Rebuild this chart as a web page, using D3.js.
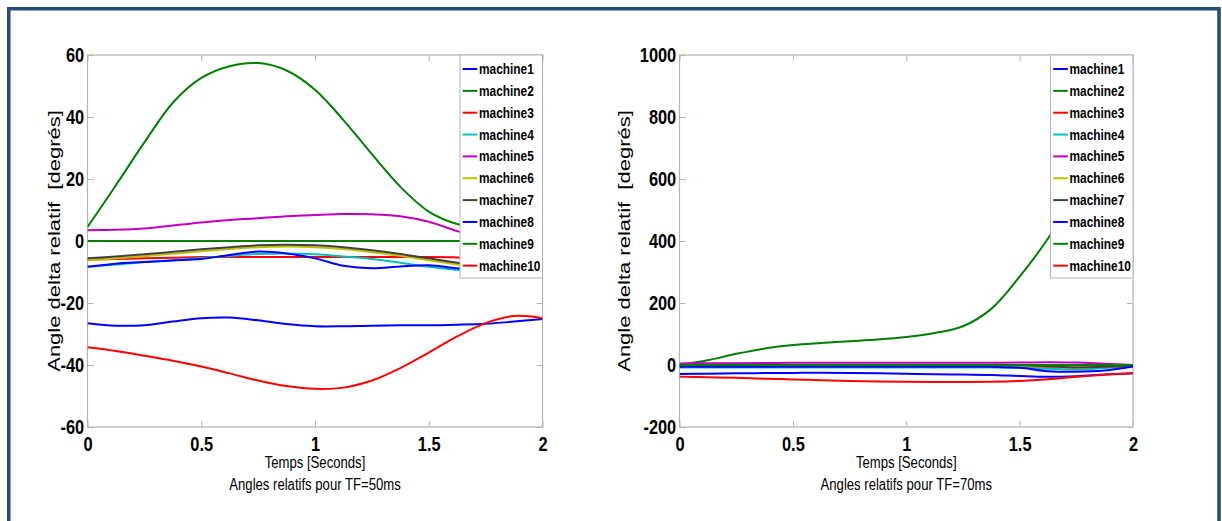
<!DOCTYPE html>
<html>
  <head>
    <meta charset="UTF-8">
    <title>Angles relatifs</title>
    <script src="https://d3js.org/d3.v7.min.js"></script>
    <style>
      body { margin: 0; background: #fff; }
      text { font-family: "Liberation Sans", Arial, sans-serif; }
    </style>
  </head>
  <body>
    <div id="chart"></div>
    <script>
      // temps (s), grille commune des deux simulations
      const temps = [0, 0.125, 0.25, 0.375, 0.5, 0.625, 0.75, 0.875, 1, 1.125, 1.25, 1.375, 1.5, 1.625, 1.75, 1.875, 2];
      const machines = ["machine1", "machine2", "machine3", "machine4", "machine5", "machine6", "machine7", "machine8", "machine9", "machine10"];
      const couleurs = ["#0000ff", "#008000", "#ff0000", "#00bfbf", "#bf00bf", "#bfbf00", "#404040", "#0000ff", "#008000", "#ff0000"];
      const ticksTemps = [0, 0.5, 1, 1.5, 2];

      // TF = 50ms
      const tf50_m1 = [-26.5, -27.3, -27.2, -26.0, -24.9, -24.7, -25.6, -26.8, -27.5, -27.5, -27.3, -27.2, -27.2, -27.0, -26.7, -26.0, -25.2];
      const tf50_m2 = [4.5, 18, 31.8, 44.6, 52.6, 56.4, 57.4, 55.0, 48.8, 39, 28, 17.5, 9.5, 5.5, 4.2, 4.2, 4.5];
      const tf50_m3 = [-6.0, -5.8, -5.6, -5.4, -5.2, -5.2, -5.2, -5.2, -5.2, -5.2, -5.2, -5.2, -5.2, -5.3, -5.5, -5.6, -5.7];
      const tf50_m4 = [-8.3, -7.6, -6.8, -6.2, -5.5, -4.8, -4.2, -4.0, -4.3, -5.0, -5.8, -7.0, -8.3, -9.3, -10.5, -11.3, -11.6];
      const tf50_m5 = [3.5, 3.6, 4.0, 5.0, 6.0, 6.8, 7.3, 8.0, 8.4, 8.7, 8.6, 8.0, 6.2, 3.2, 0.5, -1.0, -2.0];
      const tf50_m6 = [-6.2, -5.6, -4.9, -4.1, -3.3, -2.6, -2.0, -1.8, -2.0, -2.6, -3.6, -4.8, -6.2, -7.6, -9.0, -10.0, -10.5];
      const tf50_m7 = [-5.6, -5.0, -4.3, -3.5, -2.7, -2.0, -1.4, -1.2, -1.4, -2.0, -3.0, -4.2, -5.6, -7.0, -8.5, -9.5, -10.0];
      const tf50_m8 = [-8.3, -7.3, -6.8, -6.3, -5.8, -4.5, -3.4, -4.0, -5.6, -8.0, -8.8, -8.2, -7.8, -8.8, -9.5, -9.8, -10.0];
      const tf50_m9 = [0, 0, 0, 0, 0, 0, 0, 0, 0, 0, 0, 0, 0, 0, 0, 0, 0];
      const tf50_m10 = [-34.3, -35.5, -37.0, -38.6, -40.5, -42.7, -45.0, -46.8, -47.7, -47.3, -45.0, -41.0, -36.0, -30.8, -26.5, -24.2, -24.9];

      // TF = 70ms
      const tf70_m1 = [-29, -28, -27, -26, -25.5, -25, -25.5, -27, -28.5, -30, -31, -32, -35.5, -38, -36, -31, -27];
      const tf70_m2 = [0, 15, 36, 53, 64.5, 71, 76.5, 82, 90, 103, 125, 181, 285, 408, 560, 760, 1000];
      const tf70_m3 = [-6, -6, -6, -6, -6, -6, -6, -6, -6, -6, -6, -6, -6.5, -7, -8, -6, -4];
      const tf70_m4 = [-8, -8, -8, -8, -8, -8, -8, -8, -8, -8, -8, -8, -9, -12, -15, -10, -5];
      const tf70_m5 = [5, 5.5, 6, 6.5, 7, 7, 7, 7, 7, 7, 7, 7.5, 8, 9, 8, 4, 0];
      const tf70_m6 = [-3, -3, -3, -3, -3, -3, -3, -3, -3, -3, -3, -3, -3, -5, -8, -6, -3];
      const tf70_m7 = [-1, -1, -1, -1, -1, -1, -1, -1, -1, -1, -1, -1, -1, -4, -8, -6, -3];
      const tf70_m8 = [-5.5, -5.5, -5.5, -5.5, -5.5, -5.5, -5.5, -5.5, -5.5, -5.5, -5.5, -6, -9, -20, -22, -18, -5];
      const tf70_m9 = [0, 0, 0, 0, 0, 0, 0, 0, 0, 0, 0, 0, 0, 0, 0, 0, 0];
      const tf70_m10 = [-37.5, -39.5, -41.5, -44, -46.5, -49, -51.5, -53, -54, -54.5, -54.5, -54, -51.5, -46, -38, -31.5, -27];

      const width = 1222;
      const height = 521;
      const serre = "scale(0.82,1)"; // police étroite

      const svg = d3.select("#chart")
        .append("svg")
        .attr("width", width)
        .attr("height", height);

      svg.append("rect").attr("width", width).attr("height", height).attr("fill", "#fff");

      // cadre bleu
      svg.append("rect")
        .attr("x", 8.75).attr("y", 8.75)
        .attr("width", 1210.25).attr("height", 600)
        .attr("fill", "none")
        .attr("stroke", "#254a7d")
        .attr("stroke-width", 3.5);

      function panel(id, x0, x1, yDom, yTicks, series, titre, labelX) {
        const y0 = 55, y1 = 427;
        const x = d3.scaleLinear().domain([0, 2]).range([x0, x1]);
        const y = d3.scaleLinear().domain(yDom).range([y1, y0]);
        const g = svg.append("g");

        svg.append("clipPath").attr("id", "clip" + id)
          .append("rect").attr("x", x0).attr("y", y0).attr("width", x1 - x0).attr("height", y1 - y0);

        // axes (ticks vers l'intérieur, sur les 4 côtés)
        const fmt = d => String(d);
        const styleAxis = a => {
          a.select(".domain").remove();
          a.selectAll(".tick line").attr("stroke", "#b4b4b4");
          a.selectAll("text").attr("fill", "#000").attr("font-size", 20).attr("font-weight", "bold")
            .attr("font-family", "'Liberation Sans', Arial, sans-serif")
            .attr("transform", serre);
        };
        g.append("g").attr("transform", `translate(0,${y1})`)
          .call(d3.axisBottom(x).tickValues(ticksTemps).tickFormat(fmt).tickSize(-6).tickPadding(10))
          .call(styleAxis);
        g.append("g").attr("transform", `translate(0,${y0})`)
          .call(d3.axisTop(x).tickValues(ticksTemps).tickFormat("").tickSize(-6))
          .call(styleAxis);
        g.append("g").attr("transform", `translate(${x0},0)`)
          .call(d3.axisLeft(y).tickValues(yTicks).tickFormat(fmt).tickSize(-6).tickPadding(4))
          .call(styleAxis);
        g.append("g").attr("transform", `translate(${x1},0)`)
          .call(d3.axisRight(y).tickValues(yTicks).tickFormat("").tickSize(-6))
          .call(styleAxis);

        g.append("rect")
          .attr("x", x0).attr("y", y0).attr("width", x1 - x0).attr("height", y1 - y0)
          .attr("fill", "none").attr("stroke", "#b4b4b4").attr("stroke-width", 1.2);

        const line = d3.line()
          .x((d, i) => x(temps[i]))
          .y(d => y(d))
          .curve(d3.curveCatmullRom.alpha(0.5));

        g.append("g").attr("clip-path", `url(#clip${id})`)
          .selectAll("path")
          .data(series)
          .enter()
          .append("path")
          .attr("d", d => line(d))
          .attr("fill", "none")
          .attr("stroke", (d, i) => couleurs[i])
          .attr("stroke-width", 2);

        // légende
        const lx = x1 - 82.5, ly = y0, lh = 223;
        const leg = g.append("g");
        leg.append("rect")
          .attr("x", lx).attr("y", ly).attr("width", x1 - lx).attr("height", lh)
          .attr("fill", "#fff").attr("stroke", "#b4b4b4");
        const row = leg.selectAll(".row").data(machines).enter().append("g")
          .attr("class", "row")
          .attr("transform", (d, i) => `translate(${lx},${69 + i * 21.85})`);
        row.append("line")
          .attr("x1", 2.7).attr("x2", 17.3)
          .attr("stroke", (d, i) => couleurs[i]).attr("stroke-width", 2);
        row.append("text")
          .attr("transform", "translate(19,0) " + serre)
          .attr("dy", "0.35em")
          .attr("font-size", 14.5).attr("font-weight", "bold")
          .text(d => d);

        // titres
        const cx = (x0 + x1) / 2;
        g.append("text").attr("transform", `translate(${cx},468) ${serre}`).attr("text-anchor", "middle")
          .attr("font-size", 16).text("Temps [Seconds]");
        g.append("text").attr("transform", `translate(${cx},490) ${serre}`).attr("text-anchor", "middle")
          .attr("font-size", 16).text(titre);
        g.append("text")
          .attr("transform", `translate(${labelX},${(y0 + y1) / 2}) rotate(-90) scale(1,0.78)`)
          .attr("text-anchor", "middle").attr("dy", "0.35em")
          .attr("font-size", 22)
          .style("white-space", "pre")
          .text("Angle delta relatif  [degrés]");
      }

      panel("a", 87.5, 542.5, [-60, 60], [-60, -40, -20, 0, 20, 40, 60],
        [tf50_m1, tf50_m2, tf50_m3, tf50_m4, tf50_m5, tf50_m6, tf50_m7, tf50_m8, tf50_m9, tf50_m10],
        "Angles relatifs pour TF=50ms", 54);
      panel("b", 679.5, 1133, [-200, 1000], [-200, 0, 200, 400, 600, 800, 1000],
        [tf70_m1, tf70_m2, tf70_m3, tf70_m4, tf70_m5, tf70_m6, tf70_m7, tf70_m8, tf70_m9, tf70_m10],
        "Angles relatifs pour TF=70ms", 624);
    </script>
  </body>
</html>
